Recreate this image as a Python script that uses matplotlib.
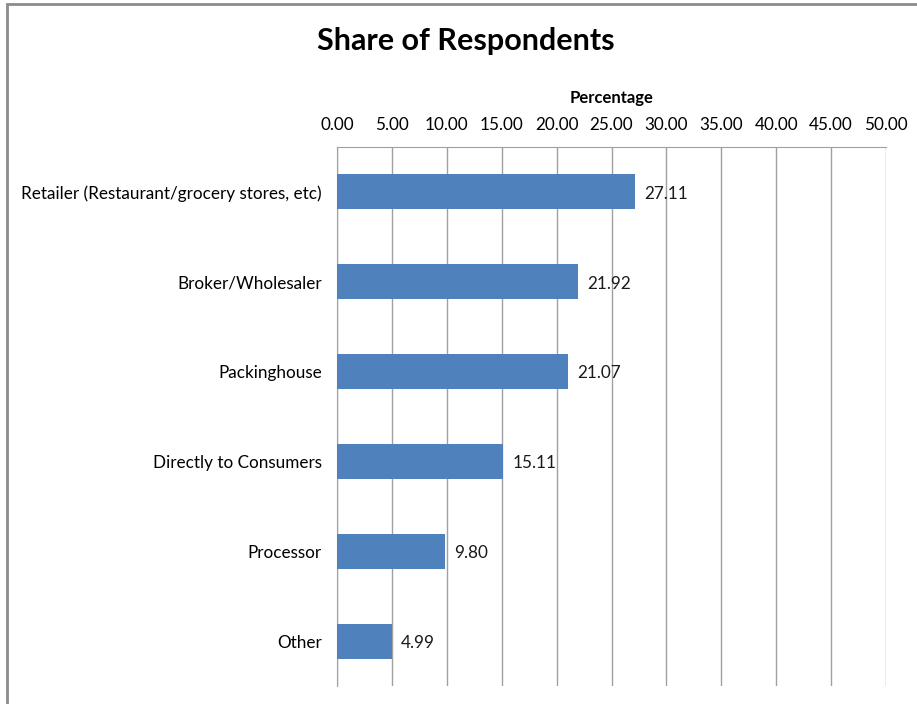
import matplotlib.pyplot as plt
from matplotlib.patches import Rectangle

categories = ['Retailer (Restaurant/grocery stores, etc)', 'Broker/Wholesaler',
              'Packinghouse', 'Directly to Consumers', 'Processor', 'Other']
shares = [27.11, 21.92, 21.07, 15.11, 9.80, 4.99]
ticks = [0, 5, 10, 15, 20, 25, 30, 35, 40, 45, 50]

plt.rcParams['font.family'] = ['Lato', 'DejaVu Sans']

fig = plt.figure(figsize=(9.17, 7.04), dpi=100)
W, H = 917, 704
ax = fig.add_axes([337 / W, 1 - 686 / H, (886 - 337) / W, (686 - 147) / H])

# outer chart frame
fig.patches.append(Rectangle((6.5 / W, -0.1), 1.2, 1 - 4.5 / H + 0.1,
                             transform=fig.transFigure, fill=False,
                             edgecolor='#8c8c8c', linewidth=2))

y = list(range(len(categories)))
ax.barh(y, shares, height=0.39, color='#4F81BD', zorder=3)
for yi, v in zip(y, shares):
    ax.text(v + 0.85, yi + 0.02, f'{v:.2f}', va='center', ha='left', fontsize=12.3,
            color='#1a1a1a', zorder=4)

ax.set_xlim(0, 50)
ax.set_ylim(len(categories) - 0.5, -0.5)
ax.set_xticks(ticks)
ax.set_xticklabels([f'{t:.2f}' for t in ticks], fontsize=12.3)
ax.set_yticks(y)
ax.set_yticklabels(categories, fontsize=12.3)
ax.xaxis.tick_top()
ax.xaxis.set_label_position('top')
ax.set_xlabel('Percentage', fontsize=12, fontweight='bold', labelpad=10)
ax.tick_params(axis='x', length=0, pad=10)
ax.tick_params(axis='y', length=0, pad=11)
ax.grid(axis='x', color='#a0a0a0', linewidth=1, zorder=0)

for s in ['right', 'bottom']:
    ax.spines[s].set_visible(False)
ax.spines['top'].set_color('#a0a0a0')
ax.spines['left'].set_color('#a0a0a0')

fig.text(466 / W, 1 - 41 / H, 'Share of Respondents', ha='center', va='center',
         fontsize=22, fontweight='bold')

fig.savefig('out.png', dpi=100)
